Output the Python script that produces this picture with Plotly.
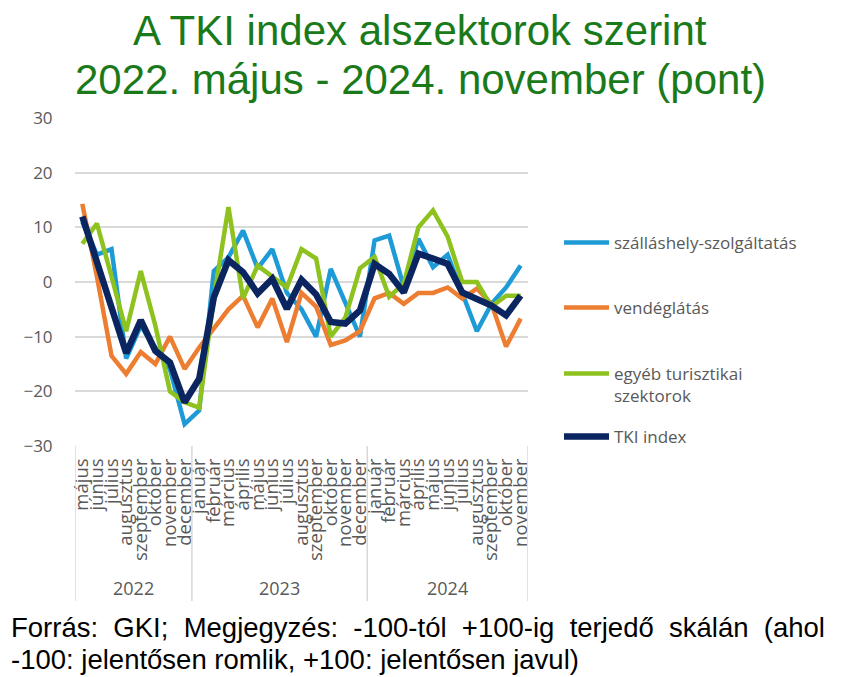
import plotly.graph_objects as go

# categories
months_2022 = ["május", "június", "július", "augusztus", "szeptember", "október", "november", "december"]
months_2023 = ["január", "február", "március", "április", "május", "június", "július", "augusztus",
               "szeptember", "október", "november", "december"]
months_2024 = ["január", "február", "március", "április", "május", "június", "július", "augusztus",
               "szeptember", "október", "november"]
year_labels = ["2022", "2023", "2024"]

# series (pont)
szallashely = [11, 5, 6, -14, -8, -12, -16, -26,
               -23.5, 2, 4.5, 9.4, 2.5, 6, -2, -5, -10, 2.4, -4, -10,
               7.6, 8.5, -1, 7.9, 2.7, 5, -2, -9, -4, -1, 3]
vendeglatas = [14.3, 1, -13.5, -16.8, -12.8, -15, -10, -15.9,
               -12, -8.5, -5, -2.5, -8.3, -3, -11, -2, -4.5, -11.5, -10.7, -9,
               -3, -2, -4, -2, -2, -1, -3, -1.2, -4, -11.8, -6.7]
egyeb = [7, 10.7, 1, -9, 2, -8, -20, -22,
         -23, -3, 13.7, -3, 3, 1, -1, 6, 4.3, -10, -6.5, 2.5,
         4.6, -2.7, -0.3, 10, 13.1, 8.3, 0, 0, -4.5, -2.5, -2.5]
tki = [12, 3.5, -5, -13, -7, -12.6, -14.7, -22,
       -17.7, -2.8, 4, 1.8, -2.1, 0.6, -4.9, 0.4, -2.3, -7.3, -7.6, -5.2,
       3.3, 1.5, -1.9, 5.2, 4.3, 3.3, -1.9, -3.1, -4.3, -6.1, -2.5]

y_ticks = [-30, -20, -10, 0, 10, 20, 30]

year_groups = [months_2022, months_2023, months_2024]
months = months_2022 + months_2023 + months_2024
xpos = list(range(len(months)))

# the page puts the figure 8px in from the top-left corner
OFF = 8
W, H = 847, 677
L, R, T, B = 75 - OFF, 528 - OFF, 118 - OFF, 446 - OFF


def px(xp):
    return (xp - OFF - L) / (R - L)


def py(yp):
    return (B - (yp - OFF)) / (B - T)


series = [
    ("szálláshely-szolgáltatás", szallashely, "#1E9BD7", 4.5, 243),
    ("vendéglátás", vendeglatas, "#ED7D31", 4.5, 308),
    ("egyéb turisztikai<br>szektorok", egyeb, "#8DC21F", 4.5, 370),
    ("TKI index", tki, "#0B2560", 6.5, 437),
]

gray = "#595959"
body = "Open Sans, Noto Sans, sans-serif"

fig = go.Figure()
layout_legends = {}
for i, (name, vals, col, w, ly) in enumerate(series):
    lg = "legend" if i == 0 else "legend%d" % (i + 1)
    fig.add_trace(go.Scatter(x=xpos, y=vals, name=name, mode="lines",
                             line=dict(color=col, width=w), legend=lg))
    layout_legends[lg] = dict(
        x=px(559), y=py(ly), xanchor="left", yanchor="top" if i == 2 else "middle",
        valign="top", bgcolor="rgba(0,0,0,0)", itemwidth=45,
        font=dict(family=body, size=17, color=gray),
    )
    if i == 2:
        layout_legends[lg]["y"] = py(ly - 14)

fig.update_layout(
    width=W, height=H,
    margin=dict(l=L, r=W - R, t=T, b=H - B),
    plot_bgcolor="white", paper_bgcolor="white",
    showlegend=True,
    **layout_legends,
)

fig.update_yaxes(range=[-30, 30], tickvals=y_ticks, showgrid=True, gridcolor="#D9D9D9",
                 gridwidth=1.5, zeroline=False, showline=False,
                 ticks="outside", ticklen=18, tickcolor="rgba(0,0,0,0)",
                 tickfont=dict(family=body, size=17, color=gray))
fig.update_xaxes(range=[-0.5, len(months) - 0.5], tickvals=xpos, ticktext=months,
                 tickangle=-90, showgrid=False, showline=False, zeroline=False,
                 ticks="outside", ticklen=4, tickcolor="rgba(0,0,0,0)",
                 tickfont=dict(family=body, size=18.5, color=gray))

# year groups: dividers and labels under the month labels
start = 0
bounds = [-0.5]
for yl, grp in zip(year_labels, year_groups):
    mid = start + (len(grp) - 1) / 2
    fig.add_annotation(text=yl, x=mid, y=py(588), xref="x", yref="paper", showarrow=False,
                       font=dict(family=body, size=18, color=gray), yanchor="middle")
    start += len(grp)
    bounds.append(start - 0.5)
for b in bounds:
    fig.add_shape(type="line", x0=b, x1=b, y0=0, y1=py(601), xref="x", yref="paper",
                  line=dict(color="#D9D9D9", width=1.5))

title_font = dict(family="Liberation Sans, Arial, sans-serif", size=42, color="#1A7A1A")
fig.add_annotation(text="A TKI index alszektorok szerint", x=px(420), y=py(30),
                   xref="paper", yref="paper", showarrow=False, font=title_font,
                   xanchor="center", yanchor="middle")
fig.add_annotation(text="2022. május - 2024. november (pont)", x=px(420), y=py(80),
                   xref="paper", yref="paper", showarrow=False, font=title_font,
                   xanchor="center", yanchor="middle")

note_font = dict(family="Liberation Sans, Arial, sans-serif", size=27.5, color="#000000")
sp = "\u00a0\u00a0"
fig.add_annotation(text=sp.join("Forrás: GKI; Megjegyzés: -100-tól +100-ig terjedő skálán (ahol".split(" ")),
                   x=px(9), y=py(627), xref="paper", yref="paper", showarrow=False,
                   font=note_font, xanchor="left", yanchor="middle")
fig.add_annotation(text="-100: jelentősen romlik, +100: jelentősen javul)",
                   x=px(9), y=py(659), xref="paper", yref="paper", showarrow=False,
                   font=note_font, xanchor="left", yanchor="middle")

fig.write_html("out.html")
